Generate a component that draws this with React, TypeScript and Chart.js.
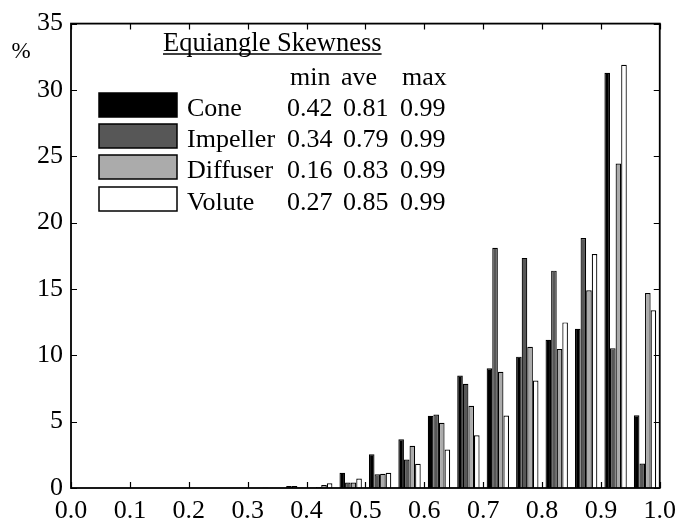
import { useEffect, useRef } from 'react';
import { Chart, registerables } from 'chart.js';

Chart.register(...registerables);

// Histogram bins of equiangle skewness (bin width 0.05), centres from 0.025 to 0.975
const binCenters = [
  0.025, 0.075, 0.125, 0.175, 0.225, 0.275, 0.325, 0.375, 0.425, 0.475,
  0.525, 0.575, 0.625, 0.675, 0.725, 0.775, 0.825, 0.875, 0.925, 0.975,
];

// Share of cells per bin, %
const cone = [0, 0, 0, 0, 0, 0, 0, 0, 0.03, 1.15, 2.55, 3.67, 5.44, 8.48, 9.03, 9.9, 11.17, 12.0, 31.3, 5.48];
const impeller = [0, 0, 0, 0, 0, 0, 0.02, 0.15, 0.08, 0.41, 1.04, 2.15, 5.53, 7.85, 18.1, 17.34, 16.38, 18.84, 10.54, 1.84];
const diffuser = [0, 0, 0, 0.01, 0.01, 0.02, 0.04, 0.15, 0.22, 0.41, 1.07, 3.18, 4.92, 6.19, 8.76, 10.64, 10.47, 14.9, 24.45, 14.7];
const volute = [0, 0, 0, 0, 0, 0.01, 0.02, 0.03, 0.36, 0.71, 1.15, 1.82, 2.9, 3.98, 5.46, 8.1, 12.48, 17.63, 31.9, 13.4];

const seriesNames = ['Cone', 'Impeller', 'Diffuser', 'Volute'];
const seriesColors = ['#000000', '#575757', '#ababab', '#ffffff'];
const minValues = ['0.42', '0.34', '0.16', '0.27'];
const aveValues = ['0.81', '0.79', '0.83', '0.85'];
const maxValues = ['0.99', '0.99', '0.99', '0.99'];
const statHeaders = ['min', 'ave', 'max'];
const legendTitle = 'Equiangle Skewness';
const yUnit = '%';

const FAMILY = '"Liberation Serif", "Times New Roman", serif';

// Box frame with short inward tick marks on all four sides
const framePlugin = {
  id: 'frameTicks',
  afterDatasetsDraw(chart: any) {
    const { ctx, chartArea, scales } = chart;
    const { left, right, top, bottom } = chartArea;
    const x = scales.x;
    const y = scales.y;
    const len = 6;
    ctx.save();
    ctx.strokeStyle = '#000';
    ctx.lineWidth = 1.2;
    ctx.beginPath();
    for (const t of y.ticks) {
      const py = Math.round(y.getPixelForValue(t.value)) + 0.5;
      ctx.moveTo(left, py);
      ctx.lineTo(left + len, py);
      ctx.moveTo(right, py);
      ctx.lineTo(right - len, py);
    }
    for (const t of x.ticks) {
      const px = Math.round(x.getPixelForValue(t.value)) + 0.5;
      ctx.moveTo(px, bottom);
      ctx.lineTo(px, bottom - len);
      ctx.moveTo(px, top);
      ctx.lineTo(px, top + len);
    }
    ctx.stroke();
    ctx.lineWidth = 1.8;
    ctx.strokeRect(left, top, right - left, bottom - top);
    ctx.restore();
  },
};

// Legend table: swatch, name, min / ave / max skewness
const legendPlugin = {
  id: 'skewLegend',
  afterDraw(chart: any) {
    const { ctx } = chart;
    ctx.save();
    ctx.fillStyle = '#000';
    ctx.textBaseline = 'alphabetic';
    ctx.textAlign = 'left';

    ctx.font = `26.5px ${FAMILY}`;
    const titleX = 163;
    const titleY = 51;
    ctx.fillText(legendTitle, titleX, titleY);
    const tw = ctx.measureText(legendTitle).width;
    ctx.strokeStyle = '#000';
    ctx.lineWidth = 1.4;
    ctx.beginPath();
    ctx.moveTo(titleX, titleY + 3);
    ctx.lineTo(titleX + tw, titleY + 3);
    ctx.stroke();

    ctx.font = `26px ${FAMILY}`;
    const headerX = [290, 341, 402];
    statHeaders.forEach((h, i) => ctx.fillText(h, headerX[i], 85));

    const rowBase = [116, 147, 178, 210];
    const colX = [287, 343, 400];
    seriesNames.forEach((name, i) => {
      const by = rowBase[i] - 23;
      ctx.fillStyle = seriesColors[i];
      ctx.fillRect(99, by, 78, 24);
      ctx.lineWidth = 1.5;
      ctx.strokeStyle = '#000';
      ctx.strokeRect(99, by, 78, 24);
      ctx.fillStyle = '#000';
      ctx.fillText(name, 187, rowBase[i]);
      ctx.fillText(minValues[i], colX[0], rowBase[i]);
      ctx.fillText(aveValues[i], colX[1], rowBase[i]);
      ctx.fillText(maxValues[i], colX[2], rowBase[i]);
    });

    ctx.font = `23px ${FAMILY}`;
    ctx.textAlign = 'center';
    ctx.fillText(yUnit, 21, 58);
    ctx.restore();
  },
};

export default function App() {
  const canvasRef = useRef<HTMLCanvasElement>(null);

  useEffect(() => {
    const canvas = canvasRef.current;
    if (!canvas) return;
    const series = [cone, impeller, diffuser, volute];
    const datasets = series.map((values, i) => ({
      label: seriesNames[i],
      data: values.map((v, j) => ({ x: binCenters[j], y: v })),
      backgroundColor: seriesColors[i],
      borderColor: '#000',
      borderWidth: 1.2,
      categoryPercentage: 0.76,
      barPercentage: 1.0,
    }));

    const tickFont = { family: FAMILY, size: 26 };

    const chart = new Chart(canvas, {
      type: 'bar',
      data: { datasets },
      options: {
        animation: false,
        responsive: false,
        maintainAspectRatio: false,
        layout: { padding: { left: 0, right: 17, top: 19, bottom: 0 } },
        plugins: {
          legend: { display: false },
          tooltip: { enabled: false },
        },
        scales: {
          x: {
            type: 'linear',
            min: 0,
            max: 1,
            offset: false,
            grid: { display: false, drawTicks: false, offset: false },
            border: { display: false },
            ticks: {
              stepSize: 0.1,
              autoSkip: false,
              maxRotation: 0,
              padding: 8,
              color: '#000',
              font: tickFont,
              callback: (v: any) => Number(v).toFixed(1),
            },
            afterFit: (s: any) => {
              s.height = 37;
            },
          },
          y: {
            type: 'linear',
            min: 0,
            max: 35,
            grid: { display: false, drawTicks: false },
            border: { display: false },
            ticks: {
              stepSize: 5,
              padding: 8,
              color: '#000',
              font: tickFont,
            },
            afterFit: (s: any) => {
              s.width = 71;
            },
          },
        },
      } as any,
      plugins: [framePlugin, legendPlugin],
    });

    return () => chart.destroy();
  }, []);

  return (
    <div style={{ position: 'fixed', left: 0, top: 0, width: 684, height: 525, background: '#fff' }}>
      <canvas ref={canvasRef} width={684} height={525} style={{ display: 'block' }} />
    </div>
  );
}
